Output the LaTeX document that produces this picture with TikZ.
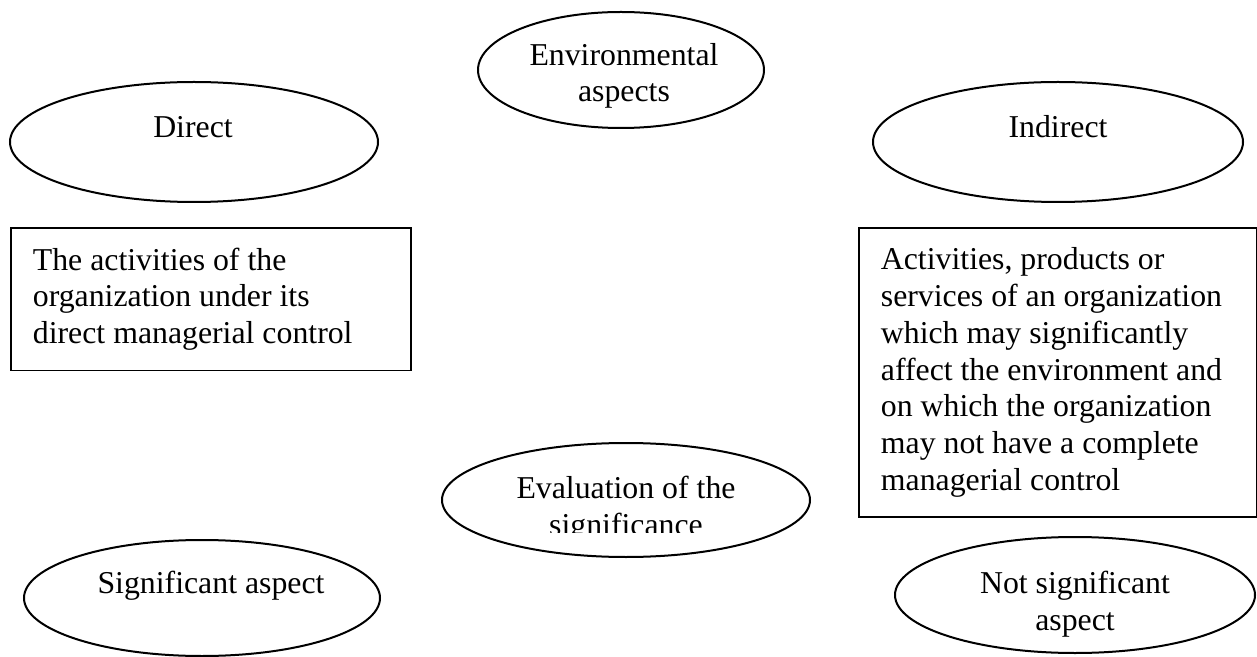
\documentclass[tikz,border=0pt]{standalone}
\usepackage{fontspec}
\setmainfont{Liberation Serif}
\usetikzlibrary{shapes.geometric}

\newcommand{\mainsize}{\fontsize{15.9pt}{18.35pt}\selectfont}
\tikzset{
  aspect/.style={ellipse, draw, line width=1pt, inner sep=0pt},
  lbl/.style={anchor=base, align=center, inner sep=0pt, font=\mainsize},
  textbox/.style={draw, line width=0.9pt, anchor=north west, align=flush left,
    inner xsep=11pt, inner ysep=10pt, font=\mainsize}
}

\begin{document}
\begin{tikzpicture}[x=0.5pt, y=-0.5pt]
  \useasboundingbox (0,0) rectangle (1257,657);

  % ellipses
  \node[aspect, minimum width=143pt, minimum height=58pt] (env) at (621,70) {};
  \node[aspect, minimum width=184pt, minimum height=60pt] (direct) at (194,142) {};
  \node[aspect, minimum width=185pt, minimum height=60pt] (indirect) at (1058,142) {};
  \node[aspect, minimum width=184pt, minimum height=57pt] (eval) at (626,500) {};
  \node[aspect, minimum width=178pt, minimum height=58pt] (sig) at (202,598) {};
  \node[aspect, minimum width=180pt, minimum height=58pt] (notsig) at (1075,595) {};

  % texts of the ellipses (base = last line)
  \node[lbl] (env-t) at (624,102) {Environmental\\aspects};
  \node[lbl] (direct-t) at (193,138) {Direct};
  \node[lbl] (indirect-t) at (1058,138) {Indirect};
  \node[lbl] (sig-t) at (211,593) {Significant aspect};
  \node[lbl] (notsig-t) at (1075,630) {Not significant\\aspect};
  \begin{scope}
    \clip (0,0) rectangle (1257,532);
    \node[lbl] (eval-t) at (626,535) {Evaluation of the\\significance};
  \end{scope}

  % boxes
  \node[textbox, text width=178pt] (directbox) at (10,227)
    {The activities of the\\organization under its\\direct managerial control};
  \node[textbox, text width=177pt] (indirectbox) at (858,227)
    {Activities, products or\\services of an organization\\which may significantly\\affect the environment and\\on which the organization\\may not have a complete\\managerial control};
\end{tikzpicture}
\end{document}
